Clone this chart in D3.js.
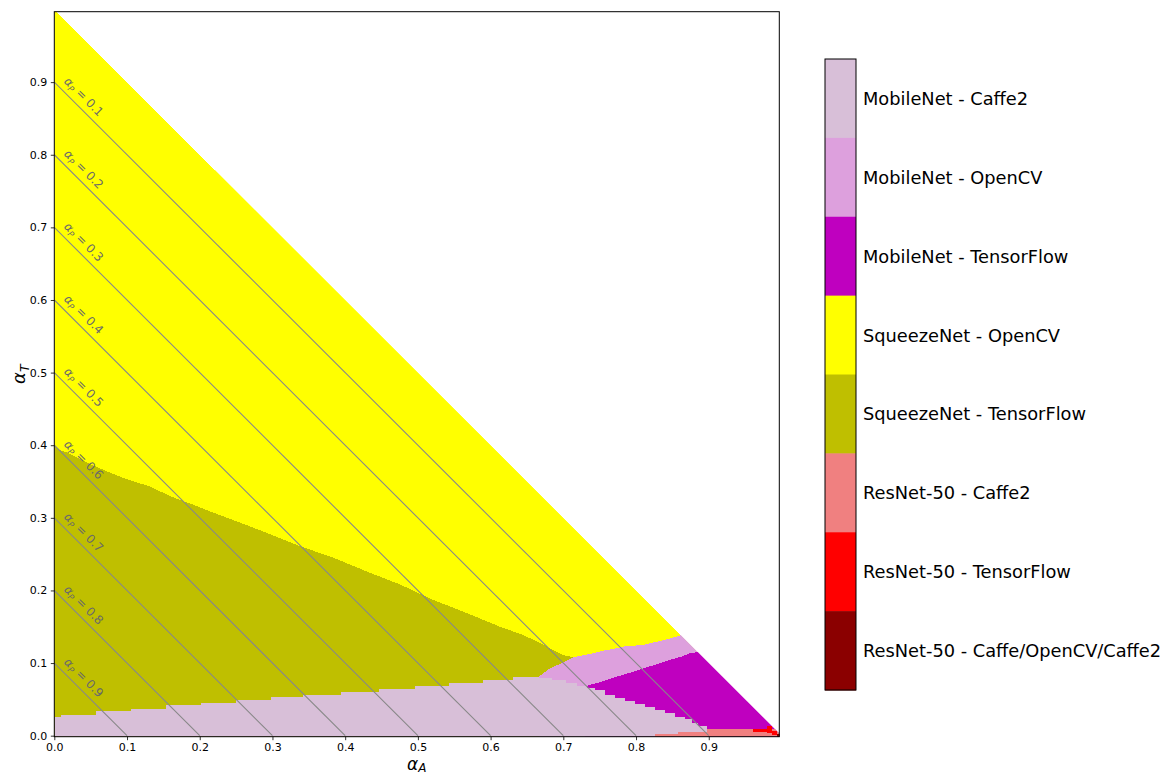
<!DOCTYPE html>
<html>
<head>
<meta charset="utf-8">
<script src="https://cdn.jsdelivr.net/npm/d3@7"></script>
<style>
  body { margin: 0; background: #fff; }
  text { font-family: "DejaVu Sans", sans-serif; }
</style>
</head>
<body>
<svg id="chart" width="1166" height="773"></svg>
<script>
// Best model/framework configuration over the weight simplex (alpha_A, alpha_T, alpha_P = 1 - alpha_A - alpha_T)
const configNames = [
  "MobileNet - Caffe2",
  "MobileNet - OpenCV",
  "MobileNet - TensorFlow",
  "SqueezeNet - OpenCV",
  "SqueezeNet - TensorFlow",
  "ResNet-50 - Caffe2",
  "ResNet-50 - TensorFlow",
  "ResNet-50 - Caffe/OpenCV/Caffe2"
];
const configColors = ["#d8bfd8", "#dda0dd", "#bf00bf", "#ffff00", "#bfbf00", "#f08080", "#ff0000", "#8b0000"];

// Feasible weights: alpha_A + alpha_T <= 1
const simplex = [[0, 0], [0, 1], [1, 0]];

// SqueezeNet - TensorFlow: upper boundary (below is SqueezeNet-TF, above SqueezeNet-OpenCV)
const squeezeTfTop = [
  [0.000, 0.399], [0.006, 0.394], [0.020, 0.389], [0.056, 0.371], [0.077, 0.362],
  [0.100, 0.353], [0.132, 0.343], [0.159, 0.330], [0.191, 0.318], [0.219, 0.307],
  [0.251, 0.295], [0.288, 0.281], [0.320, 0.268], [0.338, 0.261], [0.384, 0.245],
  [0.430, 0.226], [0.476, 0.208], [0.521, 0.187], [0.567, 0.169], [0.613, 0.150],
  [0.641, 0.140], [0.659, 0.132], [0.700, 0.111], [0.714, 0.108]
];

// MobileNet - OpenCV: upper boundary (continues past the simplex edge)
const mobileOcvTop = [
  [0.666, 0.081], [0.682, 0.093], [0.698, 0.100], [0.714, 0.108], [0.739, 0.113],
  [0.755, 0.117], [0.771, 0.120], [0.785, 0.123], [0.810, 0.125], [0.831, 0.130],
  [0.847, 0.134], [0.858, 0.137], [0.900, 0.150], [1.000, 0.160]
];

// MobileNet - TensorFlow: upper boundary (continues past the simplex edge)
const mobileTfTop = [
  [0.730, 0.068], [0.744, 0.072], [0.755, 0.075], [0.769, 0.080], [0.783, 0.084],
  [0.796, 0.088], [0.808, 0.092], [0.824, 0.097], [0.836, 0.101], [0.849, 0.105],
  [0.863, 0.109], [0.875, 0.114], [0.900, 0.116], [1.000, 0.120]
];

// MobileNet - Caffe2: stepped upper boundary (start of each step)
const mobileCaffe2Top = [
  [0.000, 0.0254], [0.0096, 0.029], [0.058, 0.0336], [0.106, 0.0373], [0.154, 0.042],
  [0.202, 0.0455], [0.2505, 0.0492], [0.298, 0.053], [0.342, 0.0555], [0.394, 0.0605],
  [0.447, 0.0645], [0.496, 0.069], [0.543, 0.073], [0.590, 0.077], [0.631, 0.0805],
  [0.666, 0.079], [0.684, 0.077], [0.703, 0.072], [0.7186, 0.068], [0.732, 0.066],
  [0.7437, 0.063], [0.7575, 0.0561], [0.7713, 0.0524], [0.785, 0.0479], [0.7988, 0.0437],
  [0.8126, 0.040], [0.8263, 0.0354], [0.840, 0.0309], [0.8538, 0.0262], [0.8676, 0.0226],
  [0.8768, 0.018], [0.8858, 0.0134], [0.8974, 0.0095]
];

// ResNet-50 - Caffe2: stepped upper boundary
const resnetCaffe2Top = [[0.826, 0.002], [0.858, 0.0055], [0.897, 0.0095], [1.000, 0.0095]];

// ResNet-50 - TensorFlow: stepped band [x, lower, upper]
const resnetTfBand = [[0.9615, 0.005, 0.0092], [0.9798, 0.0033, 0.0135], [0.9867, 0.001, 0.0065], [0.9936, 0.001, 0.0065]];

// ResNet-50 - Caffe/OpenCV/Caffe2: corner band [x, lower, upper]
const resnetOtherBand = [[0.9936, -0.01, 0.003], [1.000, -0.01, 0.003]];

// Iso-lines of alpha_P
const isoLevels = [0.1, 0.2, 0.3, 0.4, 0.5, 0.6, 0.7, 0.8, 0.9];
const tickValues = [0, 0.1, 0.2, 0.3, 0.4, 0.5, 0.6, 0.7, 0.8, 0.9];

const svg = d3.select("#chart");
const plot = { left: 54.3, right: 779.3, top: 11.7, bottom: 736.7 };

const x = d3.scaleLinear().domain([0, 0.997]).range([plot.left, plot.right]);
const y = d3.scaleLinear().domain([-0.0014, 0.997]).range([plot.bottom, plot.top]);
const yBase = plot.bottom + 5;

const defs = svg.append("defs");
defs.append("clipPath").attr("id", "plotClip")
  .append("rect")
  .attr("x", plot.left).attr("y", plot.top)
  .attr("width", plot.right - plot.left).attr("height", plot.bottom - plot.top);

// simplex outline, extended a little below alpha_T = 0 so the bottom row is filled
const simplexPx = simplex.map(p => [x(p[0]), y(p[1])]);
const simplexPoly = [[simplexPx[0][0], yBase], simplexPx[1], simplexPx[2], [x(1.01), yBase]];
defs.append("clipPath").attr("id", "simplexClip")
  .append("polygon")
  .attr("points", simplexPoly.map(p => p.join(",")).join(" "));

const outer = svg.append("g").attr("clip-path", "url(#plotClip)");
const regions = outer.append("g").attr("clip-path", "url(#simplexClip)").attr("shape-rendering", "crispEdges");

regions.append("polygon")
  .attr("points", simplexPoly.map(p => p.join(",")).join(" "))
  .attr("fill", configColors[3]);

const areaLin = d3.area().x(d => x(d[0])).y0(yBase).y1(d => y(d[1])).curve(d3.curveLinear);
const areaStep = d3.area().x(d => x(d[0])).y0(yBase).y1(d => y(d[1])).curve(d3.curveStepAfter);
const bandStep = d3.area().x(d => x(d[0])).y0(d => y(d[1])).y1(d => y(d[2])).curve(d3.curveStepAfter);

regions.append("path").attr("d", areaLin(squeezeTfTop)).attr("fill", configColors[4]);
regions.append("path").attr("d", areaLin(mobileOcvTop)).attr("fill", configColors[1]);
regions.append("path").attr("d", areaLin(mobileTfTop)).attr("fill", configColors[2]);
regions.append("path").attr("d", areaStep(mobileCaffe2Top)).attr("fill", configColors[0]);
regions.append("path").attr("d", areaStep(resnetCaffe2Top)).attr("fill", configColors[5]);
regions.append("path").attr("d", bandStep(resnetTfBand)).attr("fill", configColors[6]);
regions.append("path").attr("d", bandStep(resnetOtherBand)).attr("fill", configColors[7]);

// alpha_P iso-lines
const iso = outer.append("g");
iso.selectAll("line").data(isoLevels).join("line")
  .attr("x1", p => x(0)).attr("y1", p => y(1 - p))
  .attr("x2", p => x(1 - p)).attr("y2", p => y(0))
  .attr("stroke", "#888888").attr("stroke-width", 1.1);

const lineAngle = Math.atan2(y(0) - y(1), x(1) - x(0)) * 180 / Math.PI;
const labelX = 0.006;
const isoLabels = iso.selectAll("text").data(isoLevels).join("text")
  .attr("transform", p => `translate(${x(labelX)},${y(1 - p - labelX)}) rotate(${lineAngle})`)
  .attr("y", -6.5)
  .attr("fill", "#6a6a6a")
  .attr("font-size", 12);
isoLabels.append("tspan").attr("font-style", "italic").text("α");
isoLabels.append("tspan").attr("font-style", "italic").attr("font-size", 8.5).attr("dy", 2.5).text("P");
isoLabels.append("tspan").attr("dy", -2.5).text(p => " = " + d3.format(".1f")(p));

// frame
svg.append("rect")
  .attr("x", plot.left).attr("y", plot.top)
  .attr("width", plot.right - plot.left).attr("height", plot.bottom - plot.top)
  .attr("fill", "none").attr("stroke", "#000").attr("stroke-width", 1);

// axes
const fmt = d3.format(".1f");
const xAxis = svg.append("g").attr("transform", `translate(0,${plot.bottom})`)
  .call(d3.axisBottom(x).tickValues(tickValues).tickFormat(fmt).tickSize(3.5).tickPadding(3.5).tickSizeOuter(0));
const yAxis = svg.append("g").attr("transform", `translate(${plot.left},0)`)
  .call(d3.axisLeft(y).tickValues(tickValues).tickFormat(fmt).tickSize(3.5).tickPadding(3.5).tickSizeOuter(0));
[xAxis, yAxis].forEach(a => {
  a.select(".domain").remove();
  a.selectAll("text").attr("font-size", 11).attr("font-family", "DejaVu Sans").attr("fill", "#000");
  a.selectAll(".tick line").attr("stroke", "#000").attr("stroke-width", 0.8);
});

// axis titles
const xTitle = svg.append("text")
  .attr("x", (plot.left + plot.right) / 2).attr("y", 770)
  .attr("text-anchor", "middle").attr("font-size", 17);
xTitle.append("tspan").attr("font-style", "italic").text("α");
xTitle.append("tspan").attr("font-style", "italic").attr("font-size", 12).attr("dy", 1.5).text("A");

const yTitle = svg.append("text")
  .attr("transform", `translate(25,${(plot.top + plot.bottom) / 2}) rotate(-90)`)
  .attr("text-anchor", "middle").attr("font-size", 18);
yTitle.append("tspan").attr("font-style", "italic").text("α");
yTitle.append("tspan").attr("font-style", "italic").attr("font-size", 12.5).attr("dy", 3.5).text("T");

// legend bar
const legend = svg.append("g");
const lg = d3.scaleBand().domain(configNames).range([59, 690]).paddingInner(0);
legend.selectAll("rect.seg").data(configNames).join("rect")
  .attr("class", "seg")
  .attr("x", 825).attr("width", 31)
  .attr("y", d => lg(d)).attr("height", lg.bandwidth() + 0.5)
  .attr("fill", (d, i) => configColors[i]);
legend.append("rect")
  .attr("x", 825).attr("y", 59).attr("width", 31).attr("height", 631)
  .attr("fill", "none").attr("stroke", "#000").attr("stroke-width", 1);
legend.selectAll("text").data(configNames).join("text")
  .attr("x", 863).attr("y", d => lg(d) + lg.bandwidth() / 2)
  .attr("dominant-baseline", "central")
  .attr("font-size", 17.8).attr("fill", "#000")
  .text(d => d);
</script>
</body>
</html>
